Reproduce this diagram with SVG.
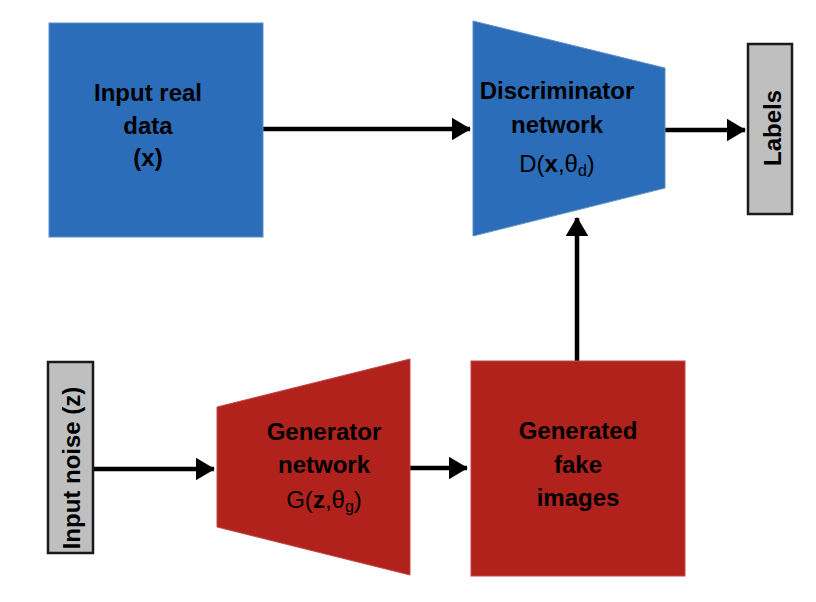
<svg xmlns="http://www.w3.org/2000/svg" width="816" height="602" viewBox="0 0 816 602">
<style>
.blue{fill:#2b6db8;stroke:#5b8fd0;stroke-width:1}
.red{fill:#b0221b;stroke:#c04a44;stroke-width:1}
.gray{fill:#bfbfbf;stroke:#1a1a1a;stroke-width:2.5}
.t{font-family:"Liberation Sans",Arial,sans-serif;font-weight:bold;font-size:24px;fill:#000;text-anchor:middle}
.n{font-weight:normal}
.conn{stroke:#000;stroke-width:4.5;fill:none;marker-end:url(#ah)}
</style>
<defs>
<marker id="ah" markerWidth="5" markerHeight="5" refX="4" refY="2.5" orient="auto" markerUnits="strokeWidth">
<path d="M0,0 L4.2,2.5 L0,5 z" fill="#000"/>
</marker>
</defs>
<rect width="816" height="602" fill="#fff"/>
<g id="connectors">
<line class="conn" x1="263" y1="129" x2="470" y2="129"/>
<line class="conn" x1="665" y1="130" x2="745" y2="130"/>
<line class="conn" x1="93" y1="469" x2="214" y2="469"/>
<line class="conn" x1="410" y1="468" x2="467" y2="468"/>
<line class="conn" x1="577" y1="361" x2="577" y2="218"/>
</g>
<g id="input-real">
<rect class="blue" x="49" y="23" width="214" height="214"/>
<text class="t" x="148" y="101">Input real</text>
<text class="t" x="148" y="134">data</text>
<text class="t" x="148" y="166">(x)</text>
</g>
<g id="discriminator">
<polygon class="blue" points="473,21 665,68 665,188 473,236"/>
<text class="t" x="557" y="99">Discriminator</text>
<text class="t" x="557" y="133">network</text>
<text class="t n" x="557" y="172">D(<tspan font-weight="bold">x</tspan>,θ<tspan font-size="16" dy="4">d</tspan><tspan dy="-4">)</tspan></text>
</g>
<g id="labels">
<rect class="gray" x="748" y="44" width="44" height="170"/>
<text class="t" transform="translate(781,128) rotate(-90)">Labels</text>
</g>
<g id="input-noise">
<rect class="gray" x="48" y="362" width="45" height="191"/>
<text class="t" transform="translate(80,468) rotate(-90)">Input noise (z)</text>
</g>
<g id="generator">
<polygon class="red" points="217,407 410,359 410,575 217,527"/>
<text class="t" x="324" y="440">Generator</text>
<text class="t" x="324" y="473">network</text>
<text class="t n" x="324" y="508">G(<tspan font-weight="bold">z</tspan>,θ<tspan font-size="16" dy="4">g</tspan><tspan dy="-4">)</tspan></text>
</g>
<g id="generated">
<rect class="red" x="471" y="361" width="214" height="215"/>
<text class="t" x="578" y="439">Generated</text>
<text class="t" x="578" y="473">fake</text>
<text class="t" x="578" y="506">images</text>
</g>
</svg>
